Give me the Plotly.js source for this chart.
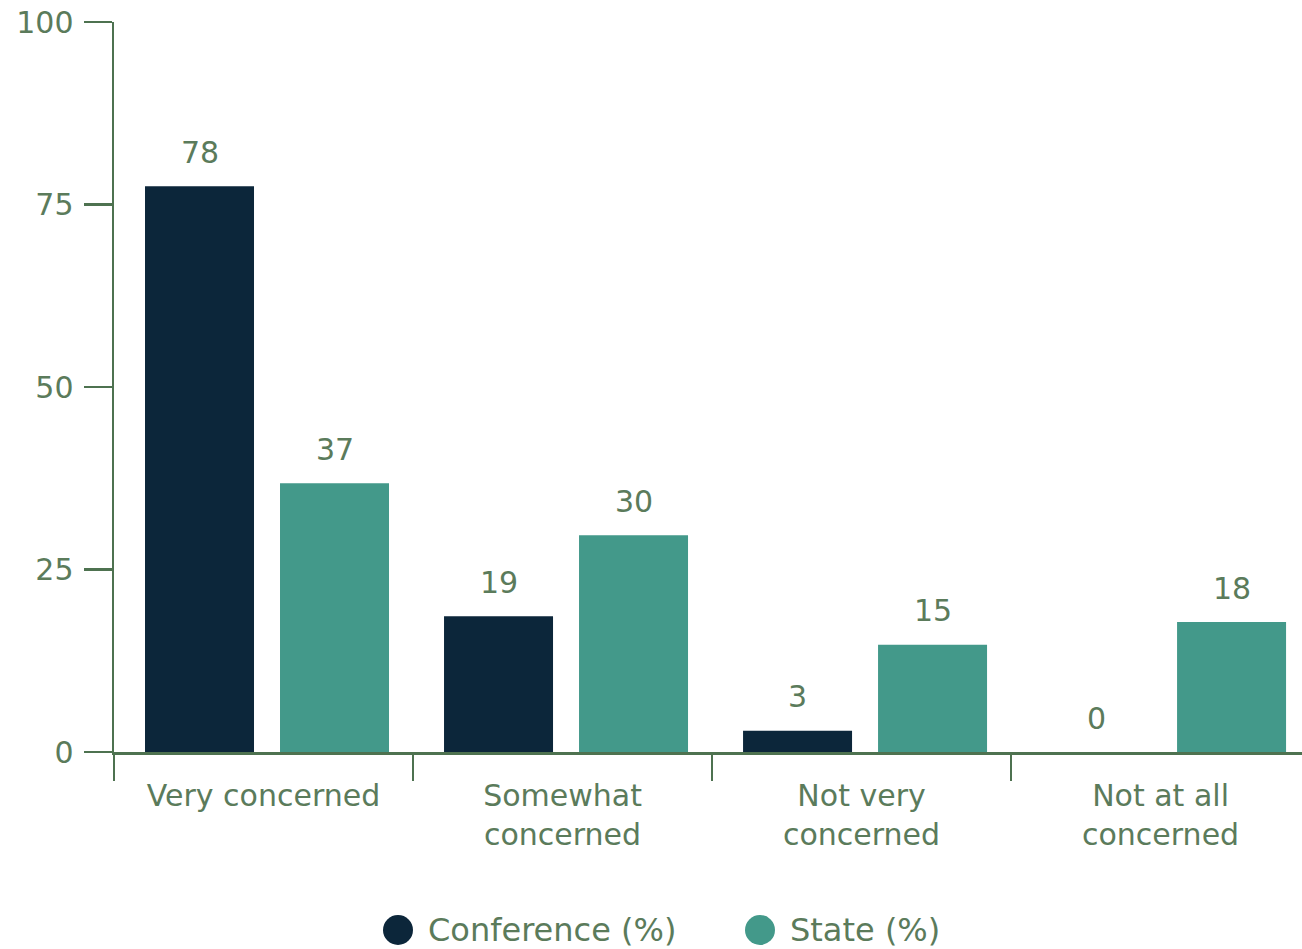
<!DOCTYPE html>
<html>
<head>
<meta charset="utf-8">
<script src="https://cdn.plot.ly/plotly-3.0.1.min.js"></script>
<style>html,body{margin:0;padding:0;background:#fff;overflow:hidden}#chart{width:1302px;height:949px}</style>
</head>
<body>
<div id="chart"></div>
<script>
const categories = ["Very concerned", "Somewhat<br>concerned", "Not very<br>concerned", "Not at all<br>concerned"];
const seriesNames = ["Conference (%)", "State (%)"];
// bar heights
const conference = [77.5, 18.6, 2.9, 0];
const state = [36.8, 29.7, 14.7, 17.8];
// value labels as printed
const conferenceLabels = ["78", "19", "3", "0"];
const stateLabels = ["37", "30", "15", "18"];
const yTicks = [0, 25, 50, 75, 100];

const colors = ["#0C263A", "#43998A"];
const textColor = "#5B7B5B";
const axisColor = "#4E7250";
const FONT = "DejaVu Sans, sans-serif";
const FS = 30;

const W = 1302, H = 949, L = 114, T = 22, B = 197;
const pw = W - L, ph = H - T - B;
const xMax = 3.473;
const catPx = pw / (xMax + 0.5);
const barOffsets = [-118.5 / catPx, 16.5 / catPx];
const barWidth = 109 / catPx;

const seriesVals = [conference, state];
const seriesLabels = [conferenceLabels, stateLabels];
const traces = seriesVals.map((vals, i) => ({
  type: "bar",
  name: seriesNames[i],
  x: categories,
  y: vals,
  offset: barOffsets[i],
  width: barWidth,
  marker: {color: colors[i]},
  showlegend: false,
  hoverinfo: "none"
}));

const labelAnnotations = [];
seriesVals.forEach((vals, i) => {
  vals.forEach((v, j) => {
    labelAnnotations.push({
      xref: "x", yref: "y", x: categories[j], y: v,
      xshift: (barOffsets[i] + barWidth / 2) * catPx,
      yshift: 34, xanchor: "center", yanchor: "middle",
      text: seriesLabels[i][j], showarrow: false,
      font: {family: FONT, size: FS, color: textColor}
    });
  });
});

const legendCircleX = [398, 760];
const legendY = 930;
const shapes = seriesNames.map((n, i) => ({
  type: "circle", xref: "paper", yref: "paper",
  xsizemode: "pixel", ysizemode: "pixel",
  xanchor: (legendCircleX[i] - L) / pw, yanchor: (H - B - legendY) / ph,
  x0: -15, x1: 15, y0: -15, y1: 15,
  fillcolor: colors[i], line: {width: 0}
}));
const legendAnnotations = seriesNames.map((n, i) => ({
  xref: "paper", yref: "paper",
  x: (legendCircleX[i] + 28 - L) / pw, y: (H - B - legendY) / ph,
  xanchor: "left", yanchor: "middle",
  text: n, showarrow: false,
  font: {family: FONT, size: FS + 2, color: textColor}
}));

const layout = {
  width: W, height: H,
  margin: {l: L, r: 0, t: T, b: B, pad: 0},
  paper_bgcolor: "#fff", plot_bgcolor: "#fff",
  barmode: "overlay",
  showlegend: false,
  font: {family: FONT, size: FS, color: textColor},
  xaxis: {
    type: "category",
    range: [-0.5, xMax],
    showline: true, linecolor: axisColor, linewidth: 2.5,
    ticks: "outside", tickson: "boundaries", ticklen: 26, tickwidth: 2.5, tickcolor: axisColor,
    ticklabelstandoff: 15,
    showgrid: false, zeroline: false,
    tickfont: {family: FONT, size: FS, color: textColor}
  },
  yaxis: {
    range: [0, 100],
    tickvals: yTicks, ticktext: yTicks.map(String),
    showline: true, linecolor: axisColor, linewidth: 2.5,
    ticks: "outside", ticklen: 28, tickwidth: 2.5, tickcolor: axisColor,
    ticklabelstandoff: 4,
    showgrid: false, zeroline: false,
    tickfont: {family: FONT, size: FS, color: textColor}
  },
  shapes: shapes,
  annotations: labelAnnotations.concat(legendAnnotations)
};

Plotly.newPlot("chart", traces, layout, {staticPlot: true, displayModeBar: false});
</script>
</body>
</html>
